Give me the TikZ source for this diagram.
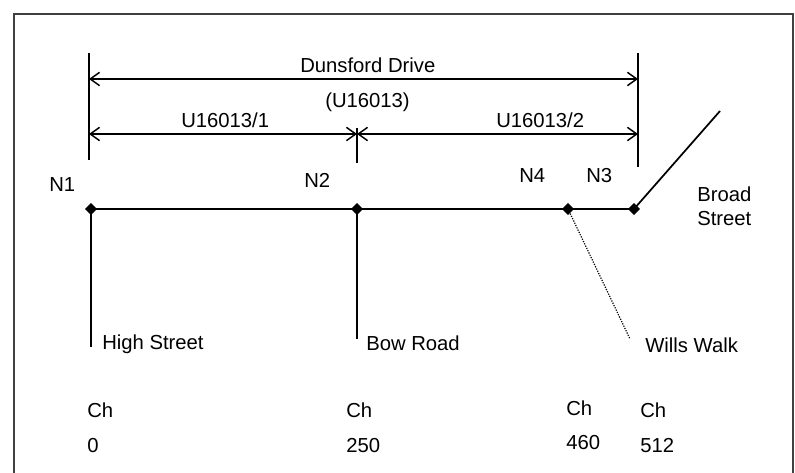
\documentclass[tikz,border=0pt]{standalone}
\usepackage{fontspec}
\setmainfont{Liberation Sans}
\usetikzlibrary{shapes.geometric, arrows.meta, positioning}

\begin{document}
\begin{tikzpicture}[
                x=0.75pt, y=-0.75pt,
                junction/.style={diamond, fill=black, draw=black, inner sep=0pt, minimum size=8.5pt},
                road/.style={line width=1.3pt, black},
                minor/.style={line width=0.9pt, densely dotted, black},
                ext/.style={line width=1.1pt, black},
                dimline/.style={line width=1.1pt, {Straight Barb[length=7pt,width=10pt]}-{Straight Barb[length=7pt,width=10pt]}},
                txt/.style={anchor=base west, inner sep=0pt, font=\fontsize{15.2}{18}\selectfont},
                frame/.style={line width=1.3pt, black!75}
            ]%
            \useasboundingbox (0,0) rectangle (795,473);
            \draw[frame] (14,473) -- (14,14) -- (793,14) -- (793,473);
            %
            % Junctions
            \node[junction] (n1) at (91,209) {};
            \node[junction] (n2) at (357,209) {};
            \node[junction] (n4) at (568,209) {};
            \node[junction] (n3) at (634,209) {};
            \node[txt] (n1lbl) at (49,192) {N1};
            \node[txt] (n2lbl) at (304,188) {N2};
            \node[txt] (n4lbl) at (519,183) {N4};
            \node[txt] (n3lbl) at (586,183) {N3};
            %
            % Road ends
            \coordinate (highend) at (91,347);
            \coordinate (bowend) at (357,339);
            \coordinate (willsend) at (630,339);
            \coordinate (broadend) at (720,111);
            %
            % Roads
            \draw[road] (n1.center) -- (n2.center) -- (n4.center) -- (n3.center) -- (broadend);
            \draw[road] (n1.center) -- (highend);
            \draw[road] (n2.center) -- (bowend);
            \draw[minor] (n4.center) -- (willsend);
            %
            % Street names
            \node[txt] (high) at (102,350) {High Street};
            \node[txt] (bow) at (366,351) {Bow Road};
            \node[txt] (wills) at (645,353) {Wills Walk};
            \node[txt, align=left, anchor=north west] (broad) at (697,187) {Broad\\Street};
            %
            % Extension lines
            \coordinate (extAtop) at (89,53);
            \coordinate (extAbot) at (89,160);
            \coordinate (extBtop) at (357,128);
            \coordinate (extBbot) at (357,163);
            \coordinate (extCtop) at (638,53);
            \coordinate (extCbot) at (638,167);
            \draw[ext] (extAtop) -- (extAbot);
            \draw[ext] (extBtop) -- (extBbot);
            \draw[ext] (extCtop) -- (extCbot);
            %
            % Dimensions
            \coordinate (dimA1) at (89,79);
            \coordinate (dimC1) at (638,79);
            \coordinate (dimA2) at (89,134);
            \coordinate (dimB2) at (357,134);
            \coordinate (dimC2) at (638,134);
            \draw[dimline] (dimA1) -- (dimC1);
            \draw[dimline] (dimA2) -- (dimB2);
            \draw[dimline] (dimB2) -- (dimC2);
            \node[txt] (dunsford) at (300,73) {Dunsford Drive};
            \node[txt] (ref) at (325,108) {(U16013)};
            \node[txt] (sec1) at (181,128) {U16013/1};
            \node[txt] (sec2) at (496,128) {U16013/2};
            %
            % Chainages
            \node[txt] (ch1) at (87,417) {Ch};
            \node[txt] (ch1v) at (87,452) {0};
            \node[txt] (ch2) at (346,417) {Ch};
            \node[txt] (ch2v) at (346,452) {250};
            \node[txt] (ch4) at (566,415) {Ch};
            \node[txt] (ch4v) at (566,449) {460};
            \node[txt] (ch3) at (640,417) {Ch};
            \node[txt] (ch3v) at (640,452) {512};
        \end{tikzpicture}
\end{document}
